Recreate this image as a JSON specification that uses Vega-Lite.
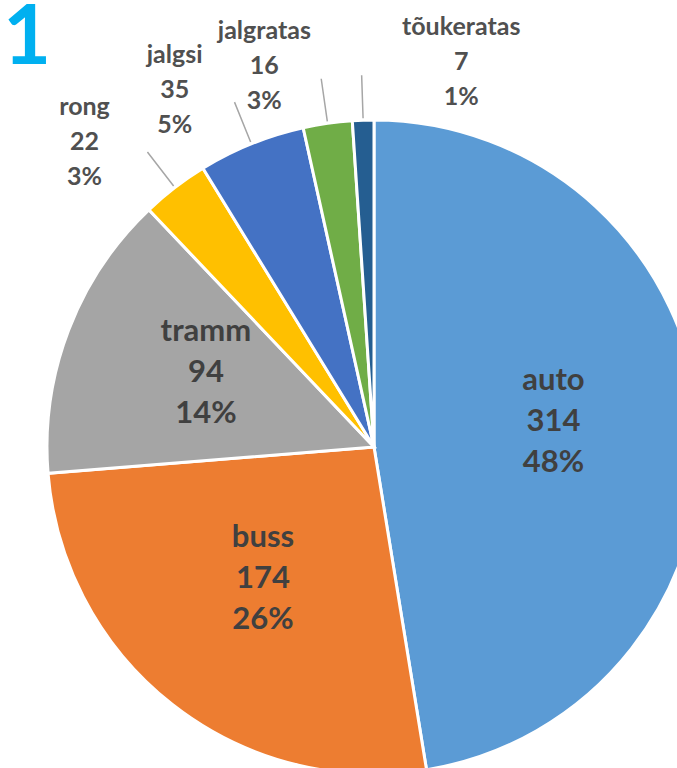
{
  "$schema": "https://vega.github.io/schema/vega-lite/v6.json",
  "width": 677,
  "height": 768,
  "autosize": "none",
  "padding": 0,
  "background": "white",
  "title": {
    "text": "1",
    "anchor": "start",
    "frame": "group",
    "orient": "top",
    "baseline": "top",
    "font": "Lato",
    "fontSize": 83,
    "fontWeight": "bold",
    "color": "#00B0F0",
    "offset": 0,
    "dx": 3,
    "dy": 81
  },
  "config": {"view": {"stroke": null}},
  "data": {
    "values": [
      {"rank": 1, "mode": "auto", "n": 314, "pct": "48%"},
      {"rank": 2, "mode": "buss", "n": 174, "pct": "26%"},
      {"rank": 3, "mode": "tramm", "n": 94, "pct": "14%"},
      {"rank": 4, "mode": "rong", "n": 22, "pct": "3%"},
      {"rank": 5, "mode": "jalgsi", "n": 35, "pct": "5%"},
      {"rank": 6, "mode": "jalgratas", "n": 16, "pct": "3%"},
      {"rank": 7, "mode": "tõukeratas", "n": 7, "pct": "1%"}
    ]
  },
  "transform": [
    {"calculate": "[datum.mode, '' + datum.n, datum.pct]", "as": "label"}
  ],
  "encoding": {
    "theta": {"field": "n", "type": "quantitative", "stack": true},
    "order": {"field": "rank", "type": "ordinal"}
  },
  "layer": [
    {
      "mark": {"type": "arc", "x": 374, "y": 447, "outerRadius": 327, "stroke": "white", "strokeWidth": 3},
      "encoding": {
        "color": {
          "field": "mode",
          "type": "nominal",
          "legend": null,
          "scale": {
            "domain": ["auto", "buss", "tramm", "rong", "jalgsi", "jalgratas", "tõukeratas"],
            "range": ["#5B9BD5", "#ED7D31", "#A5A5A5", "#FFC000", "#4472C4", "#70AD47", "#255E91"]
          }
        }
      }
    },
    {
      "mark": {"type": "arc", "x": 374, "y": 447, "radius": 372, "radius2": 329, "padAngle": 1, "fillOpacity": 0, "stroke": "#A6A6A6", "strokeWidth": 1.5},
      "encoding": {
        "strokeOpacity": {"condition": {"test": "datum.n < 50", "value": 1}, "value": 0}
      }
    },
    {
      "mark": {"type": "text", "x": 374, "y": 447, "radius": 180, "font": "Lato", "fontSize": 31, "fontWeight": "bold", "lineHeight": 41, "align": "center", "baseline": "middle", "color": "#404040", "dy": -51},
      "encoding": {
        "text": {"field": "label"},
        "opacity": {"condition": {"test": "datum.n >= 50", "value": 1}, "value": 0}
      }
    },
    {
      "mark": {"type": "text", "x": 374, "y": 447, "radius": 385, "font": "Lato", "fontSize": 25, "fontWeight": "bold", "lineHeight": 35, "align": "center", "baseline": "middle", "color": "#505050", "dy": -35,
        "dx": {"expr": "datum.n < 10 ? 100 : -55"}},
      "encoding": {
        "text": {"field": "label"},
        "opacity": {"condition": {"test": "datum.n < 50", "value": 1}, "value": 0}
      }
    }
  ]
}
